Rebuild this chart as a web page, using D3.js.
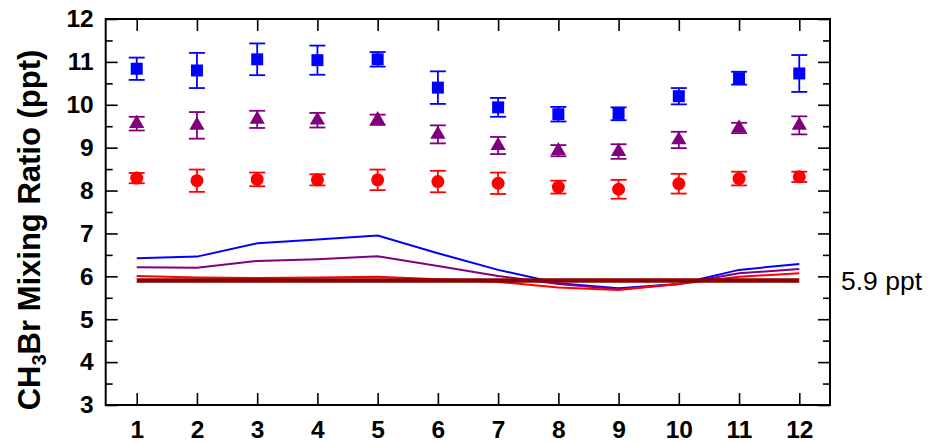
<!DOCTYPE html>
<html>
<head>
<meta charset="utf-8">
<script src="https://cdn.jsdelivr.net/npm/d3@7/dist/d3.min.js"></script>
<style>
  html, body { margin: 0; padding: 0; background: #fff; }
  svg { display: block; }
</style>
</head>
<body>
<svg id="chart" width="935" height="442"></svg>
<script>
// ---- data ----
const months = [1, 2, 3, 4, 5, 6, 7, 8, 9, 10, 11, 12];
const blueVals   = [10.84, 10.80, 11.06, 11.04, 11.06, 10.40, 9.94, 9.78, 9.79, 10.20, 10.62, 10.73];
const blueErr    = [0.26, 0.41, 0.37, 0.34, 0.17, 0.38, 0.22, 0.17, 0.15, 0.19, 0.15, 0.43];
const purpleVals = [9.56, 9.52, 9.66, 9.64, 9.65, 9.31, 9.05, 8.93, 8.91, 9.18, 9.46, 9.52];
const purpleErr  = [0.16, 0.31, 0.20, 0.17, 0.12, 0.21, 0.20, 0.13, 0.17, 0.19, 0.12, 0.21];
const redVals    = [8.29, 8.23, 8.26, 8.25, 8.25, 8.21, 8.17, 8.08, 8.03, 8.16, 8.28, 8.32];
const redErr     = [0.12, 0.26, 0.16, 0.13, 0.24, 0.25, 0.25, 0.15, 0.22, 0.23, 0.16, 0.12];
const blueLine   = [6.42, 6.46, 6.77, 6.86, 6.95, 6.54, 6.15, 5.84, 5.72, 5.82, 6.15, 6.29];
const purpleLine = [6.21, 6.20, 6.36, 6.40, 6.47, 6.24, 6.01, 5.82, 5.70, 5.82, 6.07, 6.17];
const redLine    = [6.01, 5.97, 5.96, 5.97, 5.99, 5.93, 5.87, 5.74, 5.68, 5.82, 5.99, 6.07];
const baseVal    = 5.9;
const baseLabel  = "5.9 ppt";
const yTicks     = [3, 4, 5, 6, 7, 8, 9, 10, 11, 12];
const yMinor     = [3.5, 4.5, 5.5, 6.5, 7.5, 8.5, 9.5, 10.5, 11.5];

// ---- layout ----
const svg = d3.select("#chart");
const L = 105.7, R = 830, T = 19, B = 405;
const x = d3.scaleLinear().domain([0.485, 12.51]).range([L, R]);
const y = d3.scaleLinear().domain([3, 12]).range([B, T]);

const COL = { blue: "#0000ff", purple: "#800080", red: "#ff0000", dark: "#8b0000" };
const FONT = "'Liberation Sans', Arial, Helvetica, sans-serif";

// ---- axes ----
function styleAxis(g, sw) {
  g.select(".domain").remove();
  g.selectAll(".tick line").attr("stroke", "#000").attr("stroke-width", sw);
  g.selectAll(".tick text").attr("font-family", FONT).attr("font-weight", "bold")
    .attr("font-size", "24.5px").attr("fill", "#000");
}

svg.append("g").attr("transform", `translate(${L},0)`)
  .call(d3.axisLeft(y).tickValues(yTicks).tickSize(-12).tickPadding(12).tickFormat(d3.format("d")))
  .call(g => styleAxis(g, 1.6));
svg.append("g").attr("transform", `translate(${L},0)`)
  .call(d3.axisLeft(y).tickValues(yMinor).tickSize(-7).tickFormat(""))
  .call(g => styleAxis(g, 1.6));
svg.append("g").attr("transform", `translate(${R},0)`)
  .call(d3.axisRight(y).tickValues(yTicks).tickSize(-12).tickFormat(""))
  .call(g => styleAxis(g, 1.6));
svg.append("g").attr("transform", `translate(${R},0)`)
  .call(d3.axisRight(y).tickValues(yMinor).tickSize(-7).tickFormat(""))
  .call(g => styleAxis(g, 1.6));
svg.append("g").attr("transform", `translate(0,${B})`)
  .call(d3.axisBottom(x).tickValues(months).tickSize(-12).tickPadding(16).tickFormat(d3.format("d")))
  .call(g => styleAxis(g, 1.6));
svg.append("g").attr("transform", `translate(0,${T})`)
  .call(d3.axisTop(x).tickValues(months).tickSize(-12).tickFormat(""))
  .call(g => styleAxis(g, 1.6));

// frame
svg.append("rect").attr("x", L).attr("y", T).attr("width", R - L).attr("height", B - T)
  .attr("fill", "none").attr("stroke", "#000").attr("stroke-width", 2);

// ---- model lines ----
const line = d3.line().x((d, i) => x(months[i])).y(d => y(d));
[[blueLine, COL.blue], [purpleLine, COL.purple], [redLine, COL.red]].forEach(([vals, c]) => {
  svg.append("path").datum(vals).attr("d", line).attr("fill", "none")
    .attr("stroke", c).attr("stroke-width", 2);
});
svg.append("path").datum(months.map(() => baseVal)).attr("d", line).attr("fill", "none")
  .attr("stroke", COL.dark).attr("stroke-width", 4.5);

// ---- error bars + markers ----
function errorBars(vals, errs, c) {
  const g = svg.append("g").attr("stroke", c).attr("stroke-width", 1.8).attr("fill", "none");
  months.forEach((m, i) => {
    const cx = x(m), y1 = y(vals[i] + errs[i]), y2 = y(vals[i] - errs[i]);
    g.append("line").attr("x1", cx).attr("x2", cx).attr("y1", y1).attr("y2", y2);
    g.append("line").attr("x1", cx - 8).attr("x2", cx + 8).attr("y1", y1).attr("y2", y1);
    g.append("line").attr("x1", cx - 8).attr("x2", cx + 8).attr("y1", y2).attr("y2", y2);
  });
}
errorBars(blueVals, blueErr, COL.blue);
errorBars(purpleVals, purpleErr, COL.purple);
errorBars(redVals, redErr, COL.red);

svg.append("g").selectAll("path").data(blueVals).join("path")
  .attr("d", d3.symbol(d3.symbolSquare, 144))
  .attr("transform", (d, i) => `translate(${x(months[i])},${y(d)})`)
  .attr("fill", COL.blue);
svg.append("g").selectAll("path").data(purpleVals).join("path")
  .attr("d", d3.symbol(d3.symbolTriangle, 100))
  .attr("transform", (d, i) => `translate(${x(months[i])},${y(d)})`)
  .attr("fill", COL.purple);
svg.append("g").selectAll("circle").data(redVals).join("circle")
  .attr("cx", (d, i) => x(months[i])).attr("cy", d => y(d)).attr("r", 6.5)
  .attr("fill", COL.red);

// ---- labels ----
svg.append("text").attr("x", 841).attr("y", y(baseVal)).attr("dy", "0.36em")
  .attr("font-family", FONT).attr("font-size", "26.5px").attr("fill", "#000")
  .text(baseLabel);

const title = svg.append("text")
  .attr("transform", `translate(40,${(T + B) / 2 + 18}) rotate(-90)`)
  .attr("text-anchor", "middle")
  .attr("font-family", FONT).attr("font-weight", "bold").attr("font-size", "31px").attr("fill", "#000");
title.append("tspan").text("CH");
title.append("tspan").attr("font-size", "20px").attr("dy", "6").text("3");
title.append("tspan").attr("dy", "-6").text("Br Mixing Ratio (ppt)");
</script>
</body>
</html>
